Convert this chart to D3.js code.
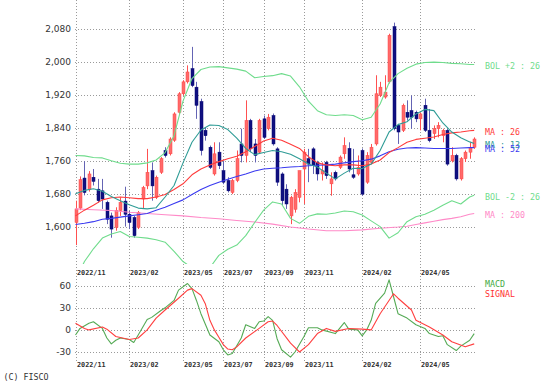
<!DOCTYPE html>
<html><head><meta charset="utf-8">
<script src="https://cdn.jsdelivr.net/npm/d3@7"></script>
<style>body{margin:0;background:#fff}svg{display:block}</style>
</head><body><svg id="c" width="546" height="384"></svg>
<script>
// ---- weekly candles (index 0 = first week of 2022/11) ----
const openV  = [1610,1645,1718,1690,1720,1691,1687,1659,1626,1598,1639,1662,1630,1622,1598,1667,1699,1736,1671,1732,
                1785,1777,1810,1878,1923,1952,1984,1939,1904,1834,1793,1728,1781,1736,1712,1683,1712,1801,1773,1858,
                1801,1781,1862,1838,1870,1789,1728,1691,1626,1642,1671,1740,1765,1789,1756,1728,1756,1704,1732,1744,
                1777,1790,1726,1728,1785,1708,1756,1801,1919,1915,1952,2086,1846,1834,1878,1882,1878,1862,1895,1834,
                1826,1838,1821,1834,1760,1773,1716,1765,1781,1793];
const highV  = [1663,1722,1759,1735,1740,1716,1716,1663,1634,1647,1671,1697,1638,1626,1638,1699,1789,1756,1724,1769,
                1793,1817,1878,1927,1956,1992,2037,1952,1911,1842,1797,1805,1805,1760,1720,1716,1785,1838,1907,1862,
                1813,1862,1870,1874,1875,1793,1732,1703,1675,1691,1736,1789,1789,1793,1760,1756,1760,1732,1736,1773,
                1817,1805,1789,1773,1790,1781,1801,1968,1952,1968,2069,2096,1850,1899,1907,1919,1882,1878,1911,1886,
                1846,1854,1838,1838,1793,1777,1769,1785,1805,1817];
const lowV   = [1555,1640,1676,1685,1700,1658,1643,1606,1573,1590,1626,1600,1594,1573,1594,1643,1691,1663,1667,1728,
                1768,1773,1806,1874,1919,1948,1939,1862,1773,1809,1740,1724,1740,1703,1683,1679,1708,1756,1756,1781,
                1756,1777,1813,1834,1797,1699,1651,1643,1606,1634,1659,1655,1708,1728,1712,1712,1716,1675,1712,1740,
                1765,1732,1716,1724,1675,1704,1752,1797,1915,1911,1948,1834,1801,1830,1858,1838,1854,1834,1830,1805,
                1813,1817,1805,1748,1756,1712,1712,1757,1765,1789];
const closeV = [1643,1714,1683,1728,1710,1663,1667,1618,1594,1639,1659,1630,1610,1578,1634,1695,1732,1699,1720,1765,
                1773,1813,1874,1923,1952,1976,1943,1895,1785,1821,1744,1777,1748,1708,1687,1712,1765,1773,1858,1789,
                1773,1858,1817,1866,1801,1708,1663,1655,1671,1683,1736,1781,1752,1748,1728,1736,1724,1716,1716,1769,
                1797,1740,1720,1744,1679,1773,1793,1923,1939,1927,2065,1838,1830,1895,1866,1866,1862,1874,1834,1809,
                1838,1846,1834,1752,1773,1716,1765,1781,1793,1813];

// ---- tick labels ----
const tickIdx    = [0,12,24,33,42,51,64,77];
const tickLabels = ["2022/11","2023/02","2023/05","2023/07","2023/09","2023/11","2024/02","2024/05"];
const priceTicks = [1600,1680,1760,1840,1920,2000,2080];
const macdTicks  = [-30,0,30,60];

// ---- overlay lines (sampled every 2 weeks) ----
const bandIdx = [0,2,4,6,8,10,12,14,16,18,20,22,24,26,28,30,32,34,36,38,40,42,44,46,48,50,52,54,56,58,60,62,64,66,68,70,72,74,76,78,80,82,84,86,88,89];
const bolUp  = [1773,1772,1768,1767,1760,1754,1752,1752,1755,1762,1780,1821,1905,1960,1982,1988,1989,1986,1983,1978,
                1962,1965,1967,1972,1966,1940,1905,1882,1872,1870,1872,1870,1860,1866,1898,1950,1972,1985,1995,1999,
                2000,1999,1997,1996,1994,1994];
const bolDn  = [1470,1515,1546,1572,1582,1588,1576,1574,1572,1568,1562,1540,1515,1500,1492,1500,1530,1545,1555,1578,
                1610,1640,1660,1655,1620,1608,1625,1631,1630,1633,1638,1636,1628,1614,1600,1572,1585,1612,1624,1630,
                1640,1652,1663,1655,1672,1676];
const ma26   = [1626,1640,1652,1665,1670,1672,1670,1668,1668,1672,1678,1690,1704,1726,1740,1750,1758,1765,1771,1782,
                1795,1808,1815,1810,1800,1790,1770,1755,1750,1748,1750,1750,1748,1752,1762,1780,1792,1805,1812,1815,
                1818,1824,1828,1830,1833,1834];
const ma13   = [1680,1688,1692,1686,1673,1663,1653,1645,1643,1646,1672,1700,1755,1805,1835,1847,1846,1836,1815,1790,
                1775,1780,1785,1782,1776,1765,1752,1745,1730,1716,1730,1742,1741,1752,1785,1830,1848,1855,1874,1885,
                1882,1852,1830,1816,1806,1802];
const ma52   = [1605,1608,1612,1618,1620,1623,1626,1629,1632,1640,1647,1656,1665,1678,1690,1700,1708,1715,1722,1728,
                1735,1740,1742,1743,1745,1746,1748,1749,1750,1752,1755,1758,1760,1764,1772,1782,1788,1791,1792,1791,
                1790,1790,1790,1791,1792,1792];
const ma200Idx = [0,4,8,12,16,20,24,28,32,36,40,44,48,52,56,60,64,68,72,74,76,78,80,82,84,86,88,89];
const ma200    = [1643,1641,1639,1635,1632,1629,1626,1622,1619,1615,1611,1606,1599,1594,1590,1590,1592,1596,1599,1601,
                  1605,1609,1613,1617,1620,1624,1630,1632];

// ---- MACD panel ----
const macdIdx = [0,1,3,4,6,7,8,9,10,12,13,14,16,17,19,20,22,23,25,26,27,28,30,32,33,34,35,37,38,40,41,42,43,44,45,46,48,49,51,52,54,55,58,60,61,63,64,65,66,67,69,70,71,72,74,76,78,79,81,82,83,85,86,88,89];
const macdV   = [-7,2,9,11,2,-11,-19,-14,-11,-13,-17,-7,14,17,26,30,40,54,63,56,40,22,-7,-16,-27,-34,-32,-11,7,2,11,12,18,13,-12,-27,-37,-30,-9,3,3,0,-5,10,1,0,-8,0,13,36,50,68,45,22,16,7,2,-5,-9,-8,-20,-28,-22,-14,-5];
const sigIdx  = [0,2,3,6,7,9,12,14,16,18,20,23,25,26,28,29,30,31,32,33,34,35,36,38,41,43,44,45,48,50,52,54,56,58,61,64,66,68,71,72,75,76,79,82,84,87,89];
const sigV    = [9,2,0,4,1,-9,-13,-11,0,16,27,43,54,56,47,35,13,0,-10,-20,-26,-27,-23,-11,2,11,12,6,-18,-30,-20,-5,2,-2,2,1,0,22,49,43,27,13,4,-7,-16,-23,-19];

// ---- drawing ----
const svg = d3.select("#c");
svg.append("rect").attr("width",546).attr("height",384).attr("fill","#fff");

const x  = d3.scaleLinear().domain([0,89]).range([75.5,474.2]);
const y  = d3.scaleLinear().domain([1600,2080]).range([226.6,29.2]);
const ym = d3.scaleLinear().domain([-30,60]).range([352,285.7]);

const gridCol = "#9a9a9a";
const g = svg.append("g");
// vertical grid
g.selectAll(".vg").data(tickIdx).join("line")
  .attr("x1",d=>Math.round(x(d))+0.5).attr("x2",d=>Math.round(x(d))+0.5)
  .attr("y1",0).attr("y2",362)
  .attr("stroke",gridCol).attr("stroke-width",1).attr("stroke-dasharray","1,2");
// horizontal grid main
g.selectAll(".hg").data(priceTicks).join("line")
  .attr("x1",75).attr("x2",477)
  .attr("y1",d=>Math.round(y(d))+0.5).attr("y2",d=>Math.round(y(d))+0.5)
  .attr("stroke",gridCol).attr("stroke-dasharray","1,2");
g.selectAll(".hm").data(macdTicks).join("line")
  .attr("x1",75).attr("x2",477)
  .attr("y1",d=>Math.round(ym(d))+0.5).attr("y2",d=>Math.round(ym(d))+0.5)
  .attr("stroke",gridCol).attr("stroke-dasharray","1,2");

// y labels
const fmt = d3.format(",");
svg.selectAll(".yl").data(priceTicks).join("text")
  .attr("x",71).attr("y",d=>y(d)).attr("dy","0.35em")
  .attr("text-anchor","end").attr("font-family","DejaVu Sans").attr("font-size",9)
  .attr("fill","#333").text(d=>fmt(d));
svg.selectAll(".ml").data(macdTicks).join("text")
  .attr("x",71).attr("y",d=>ym(d)).attr("dy","0.35em")
  .attr("text-anchor","end").attr("font-family","DejaVu Sans").attr("font-size",9)
  .attr("fill","#333").text(d=>d);

// date labels (two rows)
[274.5,366.5].forEach(by=>{
  svg.append("g").selectAll("text").data(tickIdx).join("text")
    .attr("x",(d)=>Math.round(x(d))+1).attr("y",by)
    .attr("font-family","DejaVu Sans Mono").attr("font-size",6.8).attr("font-weight","bold")
    .attr("fill","#333").text((d,i)=>tickLabels[i]);
});

// clip for main
svg.append("clipPath").attr("id","cm").append("rect").attr("x",70).attr("y",0).attr("width",410).attr("height",264);
const main = svg.append("g").attr("clip-path","url(#cm)");

function drawLine(parent, idx, vals, ys, color, w){
  const line = d3.line().x((d,i)=>x(idx[i])).y(d=>ys(d));
  parent.append("path").datum(vals).attr("d",line).attr("fill","none")
    .attr("stroke",color).attr("stroke-width",w||1.1).attr("stroke-linejoin","round");
}
const cBol="#6fdc8c", cMa26="#ff3b3b", cMa13="#2f9c96", cMa52="#3a3af0", cMa200="#ff8ac8";

// candles
const candles = d3.range(openV.length).map(i=>({i,o:openV[i],h:highV[i],l:lowV[i],c:closeV[i]}));
const cg = main.append("g");
cg.selectAll(".wick").data(candles).join("line")
  .attr("x1",d=>Math.round(x(d.i))+0.5).attr("x2",d=>Math.round(x(d.i))+0.5)
  .attr("y1",d=>y(d.h)).attr("y2",d=>y(d.l))
  .attr("stroke",d=>d.c>=d.o?"#ff5050":"#6464b4").attr("stroke-width",1);
cg.selectAll(".body").data(candles).join("rect")
  .attr("x",d=>Math.round(x(d.i))-1).attr("width",3)
  .attr("y",d=>y(Math.max(d.o,d.c))).attr("height",d=>Math.max(1,Math.abs(y(d.o)-y(d.c))))
  .attr("fill",d=>d.c>=d.o?"#ff6a6a":"#101080")
  .attr("stroke",d=>d.c>=d.o?"#ff4646":"#000070").attr("stroke-width",0.5);

drawLine(main, ma200Idx, ma200, y, cMa200);
drawLine(main, bandIdx, bolUp, y, cBol);
drawLine(main, bandIdx, bolDn, y, cBol);
drawLine(main, bandIdx, ma52, y, cMa52);
drawLine(main, bandIdx, ma26, y, cMa26);
drawLine(main, bandIdx, ma13, y, cMa13);

// MACD lines
drawLine(svg, macdIdx, macdV, ym, "#55aa55");
drawLine(svg, sigIdx, sigV, ym, "#ff4040");

// legends
const leg = [
  ["BOL +2 : 26", cBol, bolUp[bolUp.length-1]],
  ["MA : 26", cMa26, ma26[ma26.length-1]],
  ["MA : 13", cMa13, ma13[ma13.length-1]],
  ["MA : 52", cMa52, ma52[ma52.length-1]],
  ["BOL -2 : 26", cBol, bolDn[bolDn.length-1]],
  ["MA : 200", cMa200, ma200[ma200.length-1]]
];
svg.selectAll(".lg").data(leg).join("text")
  .attr("x",485).attr("y",d=>y(d[2])+1.5).attr("dy","0.35em")
  .attr("font-family","DejaVu Sans Mono").attr("font-size",8.3)
  .attr("fill",d=>d[1]).text(d=>d[0]);
svg.append("text").attr("x",485).attr("y",284.3).attr("dy","0.35em")
  .attr("font-family","DejaVu Sans Mono").attr("font-size",8.3).attr("fill","#44aa44").text("MACD");
svg.append("text").attr("x",485).attr("y",294.3).attr("dy","0.35em")
  .attr("font-family","DejaVu Sans Mono").attr("font-size",8.3).attr("fill","#ff3030").text("SIGNAL");
svg.append("text").attr("x",3.5).attr("y",379.5)
  .attr("font-family","DejaVu Sans Mono").attr("font-size",8.3).attr("fill","#333").text("(C) FISCO");
</script></body></html>
